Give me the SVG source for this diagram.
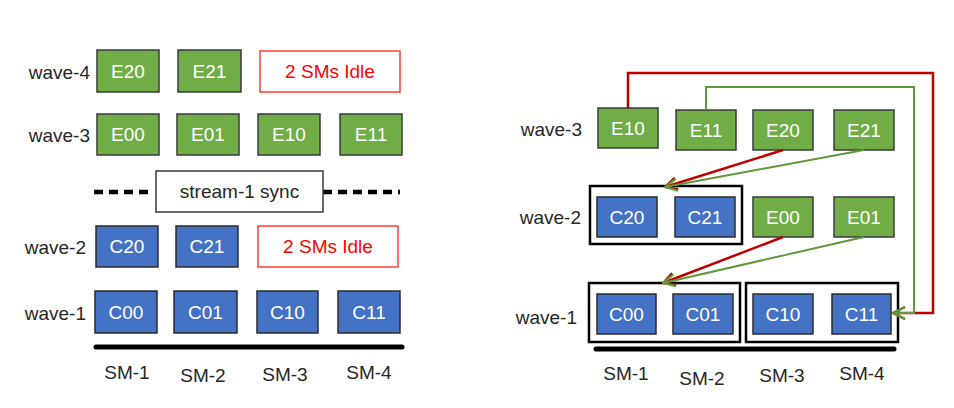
<svg xmlns="http://www.w3.org/2000/svg" width="954" height="408" viewBox="0 0 954 408">
<style>
text{font-family:"Liberation Sans",Arial,sans-serif;font-size:19px;}
.g{fill:#70AD47;stroke:#3a3a3a;stroke-width:1.5;}
.b{fill:#4472C4;stroke:#2b2b2b;stroke-width:1.5;}
.t{fill:#ffffff;text-anchor:middle;dominant-baseline:central;}
.lbl{fill:#262626;text-anchor:end;dominant-baseline:central;}
.sm{fill:#262626;text-anchor:middle;dominant-baseline:central;}
.idle{fill:#ffffff;stroke:#FF3B3B;stroke-width:1.5;}
.idt{fill:#FF0000;text-anchor:middle;dominant-baseline:central;}
.grp{fill:none;stroke:#000;stroke-width:2.5;}
.bar{stroke:#000;stroke-width:5;stroke-linecap:round;}
.red{fill:none;stroke:#C00000;stroke-width:2.5;}
.grn{fill:none;stroke:#5E9A3A;stroke-width:2;}
</style>
<defs>
<marker id="ar" viewBox="0 0 14 14" refX="13" refY="7" markerWidth="14" markerHeight="14" markerUnits="userSpaceOnUse" orient="auto">
<path d="M1,1 L13,7 L1,13" fill="none" stroke="#C00000" stroke-width="2.2"/>
</marker>
<marker id="ag" viewBox="0 0 14 14" refX="13" refY="7" markerWidth="14" markerHeight="14" markerUnits="userSpaceOnUse" orient="auto">
<path d="M1,1 L13,7 L1,13" fill="none" stroke="#5E9A3A" stroke-width="2.2"/>
</marker>
</defs>
<rect width="954" height="408" fill="#ffffff"/>

<!-- LEFT PANEL -->
<g id="left-labels">
<text class="lbl" x="90" y="72">wave-4</text>
<text class="lbl" x="90" y="135">wave-3</text>
<text class="lbl" x="86" y="247">wave-2</text>
<text class="lbl" x="86" y="313">wave-1</text>
</g>
<g id="L-E20"><rect class="g" x="97" y="50" width="62" height="42"/><text class="t" x="128" y="71">E20</text></g>
<g id="L-E21"><rect class="g" x="178" y="50" width="63" height="42"/><text class="t" x="209.5" y="71">E21</text></g>
<g id="L-idle-top"><rect class="idle" x="260" y="51" width="140" height="41"/><text class="idt" x="330" y="71.5">2 SMs Idle</text></g>
<g id="L-E00"><rect class="g" x="97" y="114" width="62" height="41"/><text class="t" x="128" y="134.5">E00</text></g>
<g id="L-E01"><rect class="g" x="177" y="114" width="62" height="41"/><text class="t" x="208" y="134.5">E01</text></g>
<g id="L-E10"><rect class="g" x="258" y="114" width="62" height="41"/><text class="t" x="289" y="134.5">E10</text></g>
<g id="L-E11"><rect class="g" x="340" y="114" width="62" height="41"/><text class="t" x="371" y="134.5">E11</text></g>
<g id="L-sync">
<line x1="94" y1="192" x2="154" y2="192" stroke="#000" stroke-width="4.5" stroke-dasharray="9 6"/>
<line x1="323" y1="192" x2="400" y2="192" stroke="#000" stroke-width="4.5" stroke-dasharray="9 6"/>
<rect x="156" y="171" width="167" height="41" fill="#ffffff" stroke="#3a3a3a" stroke-width="1.5"/>
<text class="sm" x="239.5" y="191.5">stream-1 sync</text>
</g>
<g id="L-C20"><rect class="b" x="96" y="226" width="62" height="41"/><text class="t" x="127" y="246.5">C20</text></g>
<g id="L-C21"><rect class="b" x="176" y="226" width="62" height="41"/><text class="t" x="207" y="246.5">C21</text></g>
<g id="L-idle-bot"><rect class="idle" x="258" y="226" width="140" height="41"/><text class="idt" x="328" y="246.5">2 SMs Idle</text></g>
<g id="L-C00"><rect class="b" x="95" y="291" width="62" height="42"/><text class="t" x="126" y="312">C00</text></g>
<g id="L-C01"><rect class="b" x="174" y="291" width="63" height="42"/><text class="t" x="205.5" y="312">C01</text></g>
<g id="L-C10"><rect class="b" x="257" y="291" width="61" height="42"/><text class="t" x="287.5" y="312">C10</text></g>
<g id="L-C11"><rect class="b" x="338" y="291" width="62" height="42"/><text class="t" x="369" y="312">C11</text></g>
<g id="L-axis">
<line class="bar" x1="96" y1="347" x2="402" y2="347"/>
<text class="sm" x="127" y="372">SM-1</text>
<text class="sm" x="203" y="375">SM-2</text>
<text class="sm" x="285" y="374">SM-3</text>
<text class="sm" x="369" y="372">SM-4</text>
</g>

<!-- RIGHT PANEL -->
<g id="right-labels">
<text class="lbl" x="582" y="129">wave-3</text>
<text class="lbl" x="581" y="217">wave-2</text>
<text class="lbl" x="577" y="317">wave-1</text>
</g>
<g id="R-groups">
<rect class="grp" x="590" y="186" width="152" height="58"/>
<rect class="grp" x="589" y="283" width="151" height="59"/>
<rect class="grp" x="746" y="283" width="152" height="59"/>
</g>
<g id="R-E10"><rect class="g" x="598" y="108" width="60" height="40"/><text class="t" x="628" y="128">E10</text></g>
<g id="R-E11"><rect class="g" x="676" y="110" width="60" height="40"/><text class="t" x="706" y="130">E11</text></g>
<g id="R-E20"><rect class="g" x="753" y="110" width="60" height="40"/><text class="t" x="783" y="130">E20</text></g>
<g id="R-E21"><rect class="g" x="834" y="110" width="60" height="40"/><text class="t" x="864" y="130">E21</text></g>
<g id="R-C20"><rect class="b" x="597" y="197" width="60" height="40"/><text class="t" x="627" y="217">C20</text></g>
<g id="R-C21"><rect class="b" x="675" y="197" width="60" height="40"/><text class="t" x="705" y="217">C21</text></g>
<g id="R-E00"><rect class="g" x="753" y="197" width="60" height="40"/><text class="t" x="783" y="217">E00</text></g>
<g id="R-E01"><rect class="g" x="834" y="197" width="60" height="40"/><text class="t" x="864" y="217">E01</text></g>
<g id="R-C00"><rect class="b" x="597" y="294" width="59" height="40"/><text class="t" x="626.5" y="314">C00</text></g>
<g id="R-C01"><rect class="b" x="673" y="294" width="60" height="40"/><text class="t" x="703" y="314">C01</text></g>
<g id="R-C10"><rect class="b" x="753" y="294" width="60" height="40"/><text class="t" x="783" y="314">C10</text></g>
<g id="R-C11"><rect class="b" x="832" y="294" width="59" height="40"/><text class="t" x="861.5" y="314">C11</text></g>
<g id="connectors">
<path class="red" d="M628,108 V73 H933 V313 H893" marker-end="url(#ar)"/>
<path class="grn" d="M706,110 V87 H914 V313 H893" marker-end="url(#ag)"/>
<path class="red" d="M783,150 L665,187" marker-end="url(#ar)"/>
<path class="grn" d="M864,150 L665,187" marker-end="url(#ag)"/>
<path class="red" d="M783,237 L663,283" marker-end="url(#ar)"/>
<path class="grn" d="M864,237 L663,283" marker-end="url(#ag)"/>
</g>
<g id="R-axis">
<line class="bar" x1="596" y1="349" x2="894" y2="349"/>
<text class="sm" x="626" y="373">SM-1</text>
<text class="sm" x="702" y="378">SM-2</text>
<text class="sm" x="782" y="375">SM-3</text>
<text class="sm" x="862" y="373">SM-4</text>
</g>
</svg>
